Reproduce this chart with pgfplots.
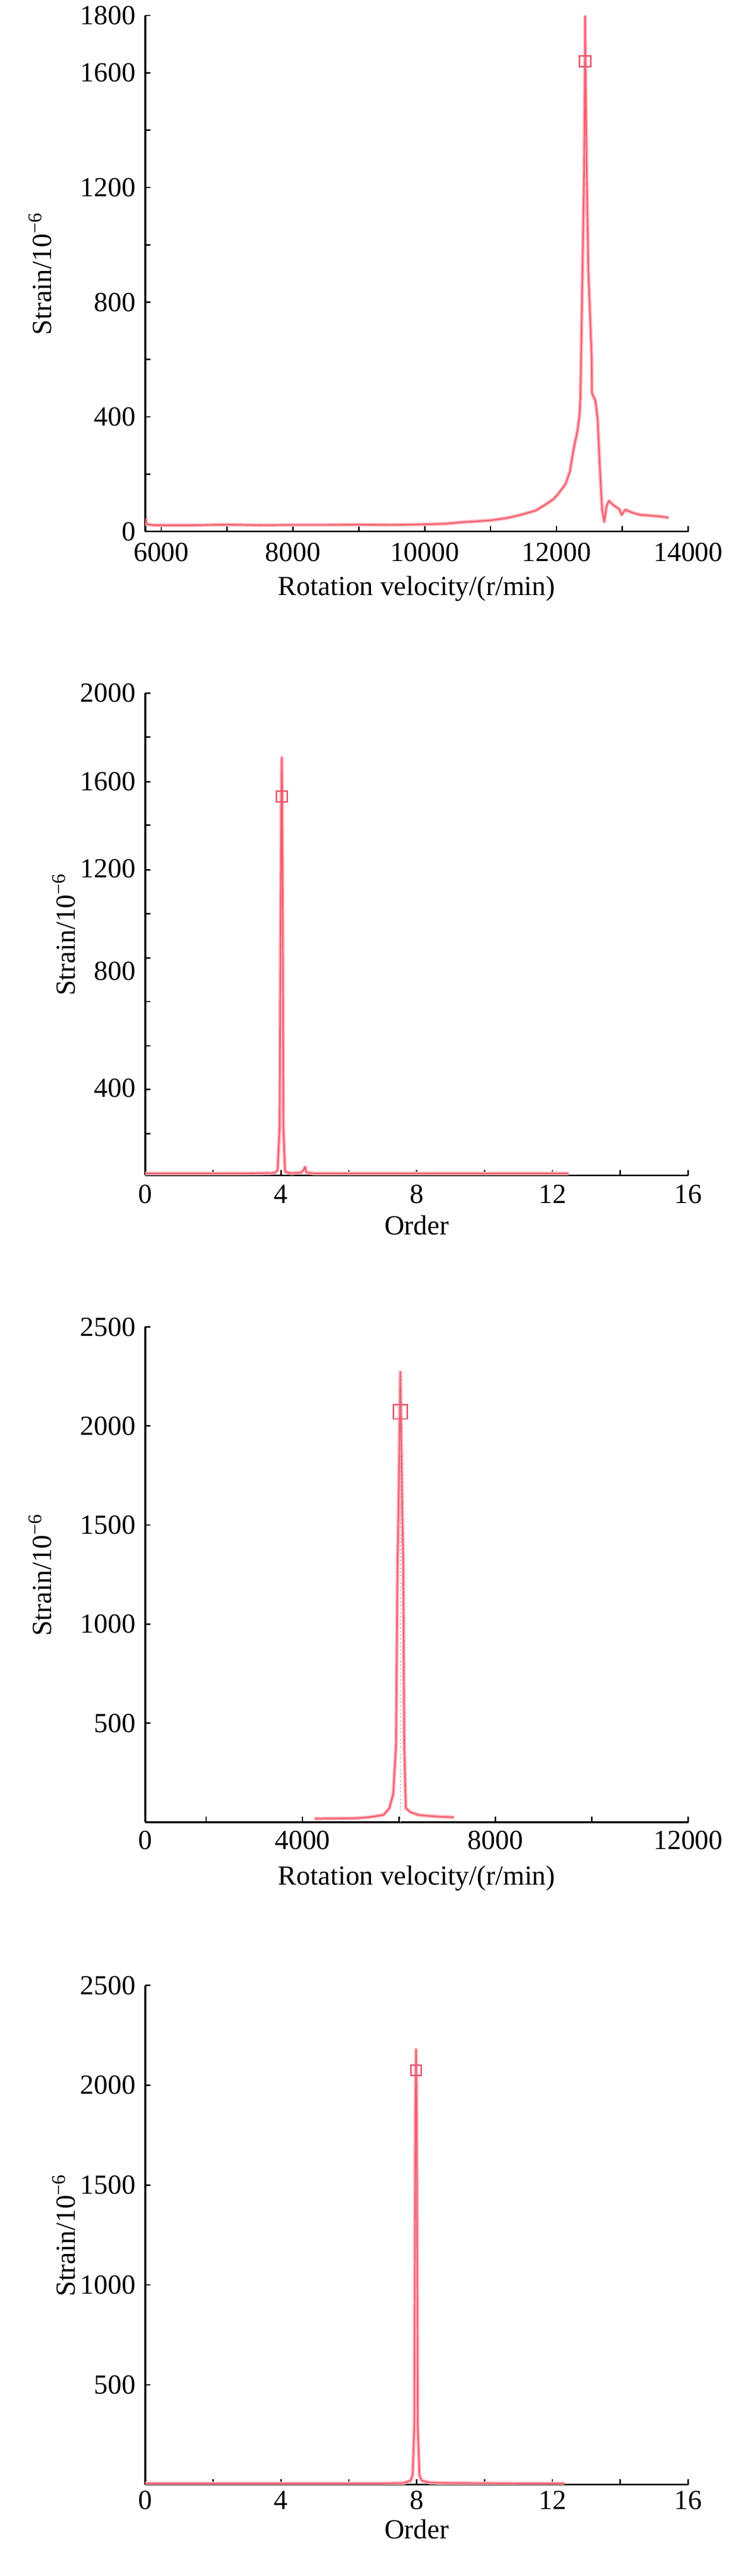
\documentclass[border=0pt]{standalone}
\usepackage{fontspec}
\setmainfont{Liberation Serif}
\usepackage{pgfplots}
\usepackage{pgfplotstable}
\pgfplotsset{compat=1.18}

\definecolor{halo}{RGB}{255,186,196}
\definecolor{core}{RGB}{238,70,86}
\definecolor{mk}{RGB}{232,90,110}

\pgfplotstableread{
x y
5765 45
5780 25
5900 22
6500 22
7000 24
7500 22
8000 23
8500 23
9000 24
9500 23
10000 25
10300 27
10547 32
11001 39
11250 47
11455 58
11683 73
11819 92
11950 112
12012 127
12137 165
12205 209
12228 243
12273 302
12319 350
12352 409
12364 467
12375 613
12395 900
12420 1247
12434 1640
12436 1800
12440 1640
12460 1247
12485 909
12534 613
12540 482
12591 457
12625 394
12659 224
12693 78
12727 34
12760 88
12796 107
12864 92
12955 78
12989 58
13045 76
13150 66
13272 58
13400 56
13500 54
13600 52
13704 48
}\dataA

\pgfplotstableread{
x y
0 8
1 8
2 8
3 8
3.8 10
3.9 20
3.96 200
3.99 1100
4.01 1571
4.024 1732
4.035 1571
4.05 1100
4.07 200
4.12 15
4.3 9
4.6 12
4.68 25
4.71 35
4.75 12
5 8
6 8
8 8
10 8
12.48 8
}\dataB

\pgfplotstableread{
x y
4248 18
4700 19
5102 20
5400 26
5681 37
5800 70
5883 144
5940 390
5970 1300
5990 1557
6030 2272
6070 1557
6090 1300
6110 400
6143 70
6250 50
6403 37
6600 32
6837 28
7141 25
}\dataC

\pgfplotstableread{
x y
0 6
2 6
4 6
6 6
7 6
7.6 8
7.82 20
7.88 48
7.93 300
7.96 1866
7.98 2178
8.0 1866
8.03 300
8.08 48
8.15 20
8.4 10
9 8
10 7
11 6
12.36 6
}\dataD

\pgfplotsset{
  panel/.style={
    scale only axis,
    anchor=south west,
    width=196.52pt,
    axis lines=left,
    axis line style={-, line width=0.6pt, black},
    tick align=inside,
    major tick length=1.97pt,
    minor tick length=1.97pt,
    tick style={black, line width=0.5pt},
    scaled ticks=false,
    /pgf/number format/assume math mode=true,
    tick label style={font=\fontsize{10}{12}\selectfont},
    label style={font=\fontsize{10}{12}\selectfont},
    xticklabel style={anchor=center},
    ylabel={Strain/10\textsuperscript{−6}},
  },
  halostyle/.style={color=halo, line width=1.35pt, line join=round},
  corestyle/.style={color=core, line width=0.5pt, opacity=0.8, line join=round},
  mkstyle/.style={only marks, mark=square, mark size=#1, mark options={draw=mk, fill=none, line width=0.55pt}},
}

\begin{document}
\begin{tikzpicture}
\useasboundingbox (0pt,0pt) rectangle (268.48pt,932.58pt);

% ---------- (a)
\begin{axis}[panel,
  at={(52.58pt,740.15pt)}, height=186.82pt,
  xmin=5758, xmax=14000, ymin=0, ymax=1800,
  xtick={6000,8000,10000,12000,14000},
  xticklabels={6000,8000,10000,12000,14000},
  minor xtick={7000,9000,11000,13000},
  ytick={0,400,800,1200,1600,1800},
  yticklabels={0,400,800,1200,1600,1800},
  minor ytick={200,600,1000,1400},
  xticklabel style={yshift=-7.50pt},
  xlabel={Rotation velocity/(r/min)},
  xlabel style={at={(axis description cs:0.5,-0.1111)}, anchor=center},
  ylabel style={at={(axis description cs:-0.1935,0.5)}, anchor=center},
]
\addplot[halostyle] table[x=x,y=y] {\dataA};
\addplot[corestyle] table[x=x,y=y] {\dataA};
\addplot[mkstyle=2pt] coordinates {(12436,1640)};
\node[font=\fontsize{10}{12}\selectfont] at (axis description cs:0.5,-0.1768) {(a)};
\end{axis}

% ---------- (b)
\begin{axis}[panel,
  at={(52.58pt,507.05pt)}, height=174.62pt,
  xmin=0, xmax=16, ymin=0, ymax=2000,
  xtick={0,4,8,12,16},
  xticklabels={0,4,8,12,16},
  minor xtick={2,6,10,14},
  ytick={2000,1634,1272,846,362},
  yticklabels={2000,1600,1200,800,400},
  every major y tick/.append style={opacity=0},
  minor ytick={2000,1818,1632,1453,1266,1085,902,721,537,356,173},
  xticklabel style={yshift=-6.74pt},
  xlabel={Order},
  xlabel style={at={(axis description cs:0.5,-0.1037)}, anchor=center},
  ylabel style={at={(axis description cs:-0.1499,0.5)}, anchor=center},
]
\addplot[halostyle] table[x=x,y=y] {\dataB};
\addplot[corestyle] table[x=x,y=y] {\dataB};
\addplot[mkstyle=1.9pt] coordinates {(4.024,1571)};
\node[font=\fontsize{10}{12}\selectfont] at (axis description cs:0.5,-0.1766) {(b)};
\end{axis}

% ---------- (c)
\begin{axis}[panel,
  at={(52.58pt,272.88pt)}, height=179.33pt,
  xmin=738, xmax=12000, ymin=0, ymax=2500,
  xtick={738,4000,8000,12000},
  xticklabels={0,4000,8000,12000},
  minor xtick={2000,6000,10000},
  ytick={500,1000,1500,2000,2500},
  yticklabels={500,1000,1500,2000,2500},
  xticklabel style={yshift=-6.59pt},
  xlabel={Rotation velocity/(r/min)},
  xlabel style={at={(axis description cs:0.5,-0.1132)}, anchor=center},
  ylabel style={at={(axis description cs:-0.1935,0.5)}, anchor=center},
]
\addplot[halostyle] table[x=x,y=y] {\dataC};
\addplot[corestyle] table[x=x,y=y] {\dataC};
\addplot[gray!70, densely dotted, line width=0.35pt] coordinates {(6030,0) (6030,2272)};
\addplot[mkstyle=2.6pt] coordinates {(6030,2072)};
\node[font=\fontsize{10}{12}\selectfont] at (axis description cs:0.5,-0.1868) {(c)};
\end{axis}

% ---------- (d)
\begin{axis}[panel,
  at={(52.58pt,33.06pt)}, height=180.76pt,
  xmin=0, xmax=16, ymin=0, ymax=2500,
  xtick={0,4,8,12,16},
  xticklabels={0,4,8,12,16},
  minor xtick={2,6,10,14},
  ytick={500,1000,1500,2000,2500},
  yticklabels={500,1000,1500,2000,2500},
  xticklabel style={yshift=-5.56pt},
  xlabel={Order},
  xlabel style={at={(axis description cs:0.5,-0.0890)}, anchor=center},
  ylabel style={at={(axis description cs:-0.1499,0.5)}, anchor=center},
]
\addplot[halostyle] table[x=x,y=y] {\dataD};
\addplot[corestyle] table[x=x,y=y] {\dataD};
\addplot[mkstyle=1.9pt] coordinates {(7.98,2074)};
\node[font=\fontsize{10}{12}\selectfont] at (axis description cs:0.5,-0.1494) {(d)};
\end{axis}
\end{tikzpicture}
\end{document}
